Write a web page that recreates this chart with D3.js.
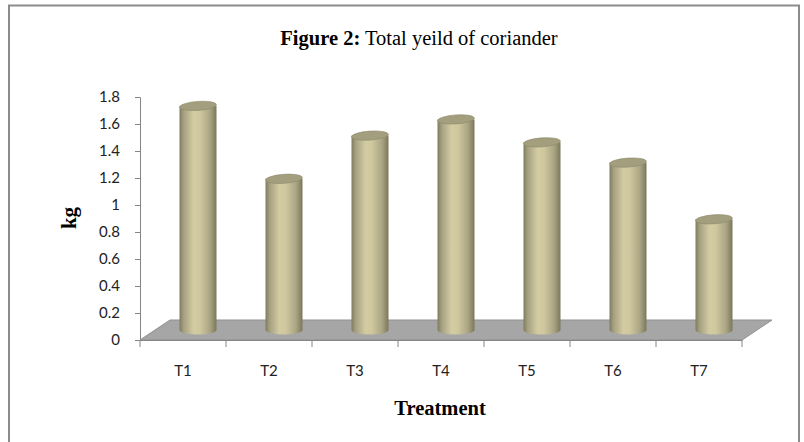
<!DOCTYPE html>
<html>
<head>
<meta charset="utf-8">
<script src="https://cdn.jsdelivr.net/npm/d3@7"></script>
<style>
  body { margin: 0; background: #fff; }
  svg { display: block; }
</style>
</head>
<body>
<svg id="chart" width="804" height="442"></svg>
<script>
// data
const treatments = ['T1', 'T2', 'T3', 'T4', 'T5', 'T6', 'T7'];
const yieldKg = [1.66, 1.12, 1.44, 1.56, 1.39, 1.24, 0.82];
const yTicks = [0, 0.2, 0.4, 0.6, 0.8, 1, 1.2, 1.4, 1.6, 1.8];

const svg = d3.select('#chart');

// plot frame (front plane) and the oblique depth offset of the floor
const plot = { left: 140, right: 742, bottom: 340, top: 97 };
const depth = { dx: 30, dy: -20 };

const x = d3.scaleBand().domain(treatments).range([plot.left, plot.right]).padding(0);
const y = d3.scaleLinear().domain([0, 1.8]).range([plot.bottom, plot.top]);

// outer chart border
svg.append('rect')
  .attr('x', 9).attr('y', 5.5)
  .attr('width', 790).attr('height', 450)
  .attr('fill', '#fff')
  .attr('stroke', '#8c8c8c').attr('stroke-width', 2);

// title
const title = svg.append('text')
  .attr('x', 419).attr('y', 45)
  .attr('text-anchor', 'middle')
  .style('font-family', '"Liberation Serif", "Times New Roman", serif')
  .style('font-size', '20.5px');
title.append('tspan').attr('font-weight', 'bold').text('Figure 2:');
title.append('tspan').text(' Total yeild of coriander');

// gradient for the cylinders
const defs = svg.append('defs');
const g = defs.append('linearGradient').attr('id', 'cyl').attr('x1', '0').attr('x2', '1').attr('y1', '0').attr('y2', '0');
[[0, '#7f7c5f'], [0.12, '#a7a282'], [0.38, '#d3cba2'], [0.55, '#cfc79e'], [0.82, '#aaa585'], [1, '#7b7859']]
  .forEach(([o, c]) => g.append('stop').attr('offset', o).attr('stop-color', c));

// floor (parallelogram)
const floorPts = [
  [plot.left, plot.bottom], [plot.right, plot.bottom],
  [plot.right + depth.dx, plot.bottom + depth.dy], [plot.left + depth.dx, plot.bottom + depth.dy]
];
svg.append('polygon')
  .attr('points', floorPts.map(p => p.join(',')).join(' '))
  .attr('fill', '#a6a6a6')
  .attr('stroke', '#8f8f8f').attr('stroke-width', 1);

// y axis
const yAxis = svg.append('g').attr('transform', `translate(${plot.left},0)`)
  .call(d3.axisLeft(y).tickValues(yTicks).tickSize(5).tickPadding(15).tickFormat(d => String(+d.toFixed(1))));
yAxis.select('.domain').attr('stroke', '#868686');
yAxis.selectAll('.tick line').attr('stroke', '#868686');
yAxis.selectAll('.tick text')
  .attr('fill', '#222')
  .style('font-family', 'Lato, "Open Sans", sans-serif')
  .style('font-size', '15px');

// x axis along the front edge of the floor
const xAxis = svg.append('g').attr('transform', `translate(0,${plot.bottom})`)
  .call(d3.axisBottom(x).tickSize(0).tickPadding(25));
xAxis.select('.domain').attr('stroke', '#868686');
xAxis.selectAll('.tick text')
  .attr('fill', '#222')
  .style('font-family', 'Lato, "Open Sans", sans-serif')
  .style('font-size', '15px');
// category boundary ticks
const bounds = treatments.map(t => x(t)).concat([plot.right]);
svg.append('g').selectAll('line').data(bounds).join('line')
  .attr('x1', d => d).attr('x2', d => d)
  .attr('y1', plot.bottom).attr('y2', plot.bottom + 7)
  .attr('stroke', '#868686');

// cylinders, placed at mid-depth of the floor
const bw = 37, ry = 4.5;
const ox = depth.dx / 2, oy = depth.dy / 2;
const bars = svg.append('g').selectAll('g').data(treatments.map((t, i) => ({ t, v: yieldKg[i] }))).join('g')
  .attr('transform', d => `translate(${x(d.t) + x.bandwidth() / 2 + ox},${oy})`);

bars.append('path')
  .attr('d', d => {
    const yb = y(0), yt = y(d.v), r = bw / 2;
    return `M${-r},${yt} L${-r},${yb} A${r},${ry} 0 0 0 ${r},${yb} L${r},${yt} Z`;
  })
  .attr('fill', 'url(#cyl)');

bars.append('ellipse')
  .attr('cx', 0).attr('cy', d => y(d.v))
  .attr('rx', bw / 2).attr('ry', ry)
  .attr('transform', d => `rotate(-4,0,${y(d.v)})`)
  .attr('fill', '#a29e7e')
  .attr('stroke', '#8d8a6c').attr('stroke-width', 0.6);

// axis titles
svg.append('text')
  .attr('transform', 'translate(76,218) rotate(-90)')
  .attr('text-anchor', 'middle')
  .style('font-family', '"Liberation Serif", "Times New Roman", serif')
  .style('font-size', '21px').style('font-weight', 'bold')
  .text('kg');

svg.append('text')
  .attr('x', 440).attr('y', 415)
  .attr('text-anchor', 'middle')
  .style('font-family', '"Liberation Serif", "Times New Roman", serif')
  .style('font-size', '20.5px').style('font-weight', 'bold')
  .text('Treatment');
</script>
</body>
</html>
